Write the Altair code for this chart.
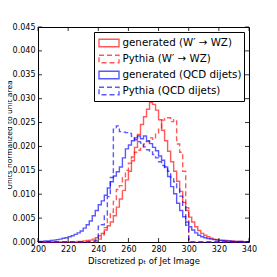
import altair as alt
import pandas as pd

edges = list(range(200, 340, 2))

gen_qcd = [0.0001, 0.0001, 0.0002, 0.0002, 0.0003, 0.0004, 0.0005, 0.0006, 0.0008, 0.0009,
           0.0011, 0.0013, 0.0016, 0.0019, 0.0023, 0.0029, 0.0036, 0.0044, 0.0055, 0.0066,
           0.0078, 0.0086, 0.0098, 0.0113, 0.0126, 0.0138, 0.0147, 0.0157, 0.0176, 0.0195,
           0.0203, 0.0212, 0.0218, 0.0222, 0.0216, 0.0222, 0.0212, 0.0206, 0.0198, 0.0191,
           0.0180, 0.0171, 0.0157, 0.0137, 0.0116, 0.0101, 0.0081, 0.0066, 0.0053, 0.0042,
           0.0032, 0.0025, 0.0019, 0.0014, 0.0011, 0.0009, 0.0007, 0.0006, 0.0005, 0.0004,
           0.0003, 0.0003, 0.0002, 0.0002, 0.0001, 0.0001, 0.0001, 0.0001, 0.0, 0.0]

gen_w = [0.0] * 13 + [
    0.0001, 0.0001, 0.0002, 0.0003, 0.0004, 0.0006, 0.0009, 0.0013, 0.0018, 0.0025,
    0.0034, 0.0042, 0.0055, 0.0073, 0.0090, 0.0108, 0.0130, 0.0148, 0.0170, 0.0198,
    0.0225, 0.0246, 0.0262, 0.0278, 0.0292, 0.0288, 0.0276, 0.0256, 0.0234, 0.0212,
    0.0190, 0.0168, 0.0148, 0.0127, 0.0106, 0.0083, 0.0066, 0.0052, 0.0042, 0.0032,
    0.0024, 0.0018, 0.0014, 0.0011, 0.0008, 0.0006, 0.0005, 0.0004, 0.0003, 0.0003,
    0.0002, 0.0002, 0.0001, 0.0001, 0.0001, 0.0, 0.0]

py_w = [0.0] * 19 + [
    0.0002, 0.0006, 0.0015, 0.0030, 0.0048, 0.0062, 0.0085, 0.0110, 0.0118, 0.0135,
    0.0150, 0.0165, 0.0178, 0.0188, 0.0192, 0.0196, 0.0205, 0.0210, 0.0218, 0.0215,
    0.0228, 0.0236, 0.0255, 0.0258, 0.0260, 0.0252, 0.0256, 0.0205, 0.0188, 0.0148,
    0.0072] + [0.0] * 20

py_qcd = [0.0] * 17 + [
    0.0001, 0.0002, 0.0004, 0.0033, 0.0036, 0.0056, 0.0095, 0.0135, 0.0236, 0.0243,
    0.0231, 0.0230, 0.0229, 0.0227, 0.0221, 0.0214, 0.0210, 0.0207, 0.0199, 0.0193,
    0.0190, 0.0183, 0.0176, 0.0168, 0.0160, 0.0156, 0.0148, 0.0135, 0.0126, 0.0114,
    0.0096, 0.0074, 0.0035] + [0.0] * 20

series_names = ["generated (W′ → WZ)", "Pythia (W′ → WZ)",
                "generated (QCD dijets)", "Pythia (QCD dijets)"]
series_values = [gen_w, py_w, gen_qcd, py_qcd]
series_colors = ["#ff0000", "#ff0000", "#0000ff", "#0000ff"]
series_dash = [[1, 0], [5, 3], [1, 0], [5, 3]]

x_ticks = [200, 220, 240, 260, 280, 300, 320, 340]
y_ticks = [0.0, 0.005, 0.01, 0.015, 0.02, 0.025, 0.03, 0.035, 0.04, 0.045]

rows = []
for name, vals in zip(series_names, series_values):
    k = 0
    rows.append({"x": edges[0], "y": 0.0, "series": name, "k": k}); k += 1
    for e, v in zip(edges, vals):
        rows.append({"x": e, "y": v, "series": name, "k": k}); k += 1
    rows.append({"x": 340, "y": vals[-1], "series": name, "k": k}); k += 1
    rows.append({"x": 340, "y": 0.0, "series": name, "k": k})
df = pd.DataFrame(rows)

W, H = 211, 215
xs = alt.Scale(domain=[200, 340], nice=False)
ys = alt.Scale(domain=[0, 0.045], nice=False)

x_axis = alt.Axis(values=x_ticks, format="d", title="Discretized pₜ of Jet Image",
                  titlePadding=3, labelOverlap=False, labelFlush=False)
y_axis = alt.Axis(values=y_ticks, format=".3f", title="Units normalized to unit area",
                  labelOverlap=False, labelFlush=False,
                  titleX=-26.5, titleY=H / 2, titleAngle=270,
                  titleBaseline="alphabetic", titleAlign="center",
                  titleFontSize=7.5)

lines = alt.Chart(df).mark_line(interpolate="step-after", strokeWidth=1.4, strokeOpacity=0.65).encode(
    x=alt.X("x:Q", scale=xs, axis=x_axis),
    y=alt.Y("y:Q", scale=ys, axis=y_axis),
    color=alt.Color("series:N", scale=alt.Scale(domain=series_names, range=series_colors),
                    title=None,
                    legend=alt.Legend(orient="top-right", offset=5)),
    strokeDash=alt.StrokeDash("series:N", scale=alt.Scale(domain=series_names, range=series_dash),
                              title=None,
                              legend=alt.Legend(orient="top-right", offset=5)),
    order="k:Q",
)

xt = pd.DataFrame({"v": x_ticks})
yt = pd.DataFrame({"v": y_ticks})
tick_len = 4
xb = alt.Chart(xt).mark_rule(color="black", strokeWidth=0.8).encode(
    x=alt.X("v:Q", scale=xs, axis=x_axis), y=alt.value(H), y2=alt.value(H - tick_len))
xtp = alt.Chart(xt).mark_rule(color="black", strokeWidth=0.8).encode(
    x=alt.X("v:Q", scale=xs, axis=x_axis), y=alt.value(0), y2=alt.value(tick_len))
yl = alt.Chart(yt).mark_rule(color="black", strokeWidth=0.8).encode(
    y=alt.Y("v:Q", scale=ys, axis=y_axis), x=alt.value(0), x2=alt.value(tick_len))
yr = alt.Chart(yt).mark_rule(color="black", strokeWidth=0.8).encode(
    y=alt.Y("v:Q", scale=ys, axis=y_axis), x=alt.value(W - tick_len), x2=alt.value(W))

chart = alt.layer(lines, xb, xtp, yl, yr).properties(
    width=W, height=H,
    autosize=alt.AutoSizeParams(type="none"),
    padding={"left": 30, "top": 19, "right": 20, "bottom": 27},
    background="white",
).configure(
    font="DejaVu Sans"
).configure_view(
    stroke="black", strokeWidth=1
).configure_axis(
    labelFont="DejaVu Sans", labelFontSize=8, labelColor="black",
    titleFont="DejaVu Sans", titleFontSize=8.5, titleFontWeight="normal", titleColor="black",
    domain=False, ticks=False, grid=False, labelPadding=3,
).configure_legend(
    labelFont="DejaVu Sans", labelFontSize=10.3, labelColor="black",
    symbolType="M-1.333,-0.5H1.333V0.5H-1.333Z", symbolSize=225,
    symbolStrokeWidth=1.4, symbolOpacity=0.65, symbolFillColor="transparent",
    strokeColor="black", padding=2.5, rowPadding=0, symbolOffset=4, labelOffset=5,
    cornerRadius=0, fillColor="white", labelLimit=300,
)

chart.save("out.html", embed_options={"renderer": "svg", "actions": False})
